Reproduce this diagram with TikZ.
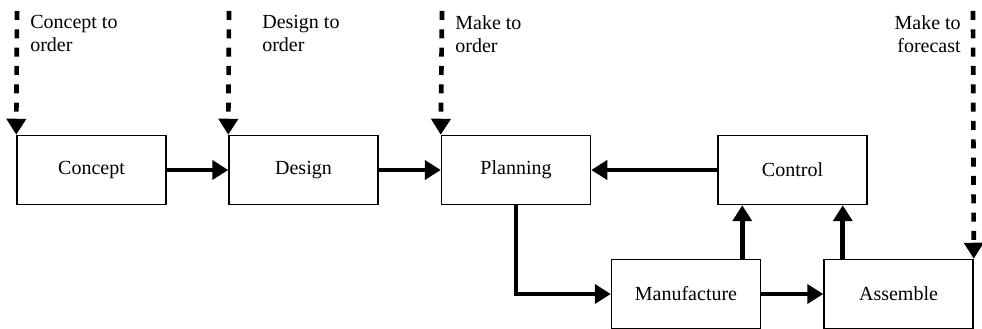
\documentclass[tikz,border=0pt]{standalone}
\usepackage{fontspec}
\setmainfont{Liberation Serif}
\usetikzlibrary{arrows.meta}

\tikzset{
  stage/.style={draw,line width=0.9pt,minimum width=89.4pt,minimum height=41.4pt,inner sep=0pt,font=\fontsize{12}{14}\selectfont},
  flow/.style={line width=2.8pt,-{Triangle[length=9.6pt,width=11.4pt]}},
  entry/.style={line width=2.8pt,dash pattern=on 5.4pt off 5.6pt,-{Triangle[length=9.6pt,width=11.4pt]}},
  tag/.style={inner sep=0pt,font=\fontsize{12}{14}\selectfont}
}

\begin{document}
\begin{tikzpicture}[x=0.6pt,y=-0.6pt]
  \useasboundingbox (0,0) rectangle (982,329);

  % stages
  \node[stage] (concept) at (91.5,170) {Concept};
  \node[stage] (design) at (303.5,170) {Design};
  \node[stage] (planning) at (516,170) {Planning};
  \node[stage] (control) at (792.5,170) {Control};
  \node[stage] (manufacture) at (686,294) {Manufacture};
  \node[stage] (assemble) at (898.5,294) {Assemble};

  % order points
  \coordinate (cto) at (17,11);
  \coordinate (dto) at (229,11);
  \coordinate (mto) at (442,11);
  \coordinate (mtf) at (973,11);
  \node[tag,anchor=north west,align=left] (ctolabel) at (30,15) {Concept to\\order};
  \node[tag,anchor=north west,align=left] (dtolabel) at (262,15) {Design to\\order};
  \node[tag,anchor=north west,align=left] (mtolabel) at (455,15) {Make to\\order};
  \node[tag,anchor=north east,align=right] (mtflabel) at (961,15) {Make to\\forecast};

  \draw[entry] (cto) -- (concept.north west);
  \draw[entry] (dto) -- (design.north west);
  \draw[entry] (mto) -- (planning.north west);
  \draw[entry] (mtf) -- (assemble.north east);

  % material and information flow
  \draw[flow] (concept) -- (design);
  \draw[flow] (design) -- (planning);
  \draw[flow] (control) -- (planning);
  \draw[flow] (planning.south) |- (manufacture.west);
  \draw[flow] (manufacture) -- (assemble);
  \draw[flow] ([xshift=15pt]control.south west |- manufacture.north) -- ([xshift=15pt]control.south west);
  \draw[flow] ([xshift=-15pt]control.south east |- assemble.north) -- ([xshift=-15pt]control.south east);
\end{tikzpicture}
\end{document}
